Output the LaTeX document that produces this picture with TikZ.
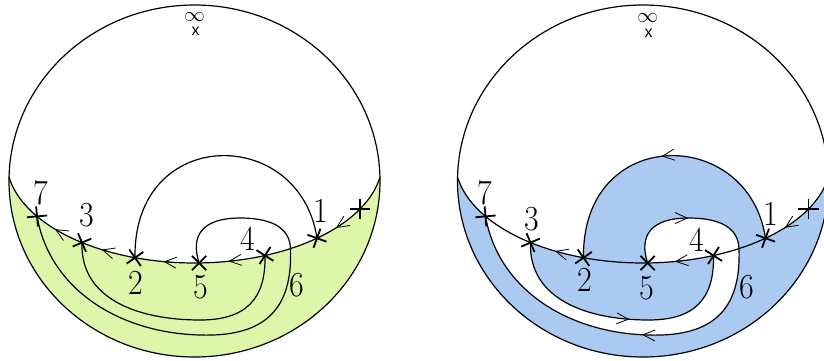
\documentclass[tikz,border=0pt]{standalone}
\usepackage{fontspec}
\newfontfamily\arialfam{Liberation Sans}
\usetikzlibrary{arrows.meta,decorations.markings,shapes.misc}
\definecolor{lgreen}{RGB}{221,247,170}
\definecolor{lblue}{RGB}{170,202,242}
\newcommand\eqx[1]{194.5+188*cos(#1)}
\newcommand\eqy[1]{160.3+102.7*sin(#1)}
\newcommand\setpts{%
  \coordinate (P7) at ({\eqx{146.9}},{\eqy{146.9}});
  \coordinate (P3) at ({\eqx{126.76}},{\eqy{126.76}});
  \coordinate (P2) at ({\eqx{108.45}},{\eqy{108.45}});
  \coordinate (P5) at ({\eqx{88.6}},{\eqy{88.6}});
  \coordinate (P4) at ({\eqx{67.98}},{\eqy{67.98}});
  \coordinate (P1) at ({\eqx{49.34}},{\eqy{49.34}});
  \coordinate (P0) at ({\eqx{28.33}},{\eqy{28.33}});
  \coordinate (X) at ({\eqx{59.3}},{\eqy{59.3}});
  \coordinate (Q) at (240,218);
  \coordinate (R) at (200,335);
  \coordinate (M) at (200,320);
}
\tikzset{
  ln/.style={line width=1.2pt},
  mk/.style={cross out, draw, line width=1.8pt, minimum size=12.5pt, inner sep=0pt},
  lab/.style={font=\fontsize{32}{32}\selectfont, inner sep=0pt, yscale=1.1},
  chev/.style={-{Straight Barb[length=12pt,width=11pt,line width=0.8pt]}, line width=0.8pt},
  tipmk/.style={decorate, decoration={markings, mark=at position #1 with {\arrow{Straight Barb[length=12pt,width=11pt,line width=0.8pt]}}}},
}
\begin{document}
\begin{tikzpicture}[x=1pt,y=-1pt]
\clip (0,0) rectangle (824,360);
% ===================== LEFT =====================
\begin{scope}[name prefix=L-]
\setpts
\begin{scope}
  \clip (194.5,181) ellipse [x radius=185.5pt, y radius=176pt];
  \fill[lgreen] plot[domain=0:180,samples=91,variable=\t] ({\eqx{\t}},{\eqy{\t}}) -- (6,370) -- (383,370) -- cycle;
\end{scope}
\draw[ln] (194.5,181) ellipse [x radius=185.5pt, y radius=176pt];
\draw[ln] plot[domain=9.4:170.6,samples=90,variable=\t] ({\eqx{\t}},{\eqy{\t}});
% equator arrows
\draw[chev] ({\eqx{135.9}},{\eqy{135.9}}) -- ({\eqx{137.9}},{\eqy{137.9}});
\draw[chev] ({\eqx{117.6}},{\eqy{117.6}}) -- ({\eqx{119.6}},{\eqy{119.6}});
\draw[chev] ({\eqx{97.5}},{\eqy{97.5}}) -- ({\eqx{99.5}},{\eqy{99.5}});
\draw[chev] ({\eqx{77.6}},{\eqy{77.6}}) -- ({\eqx{79.6}},{\eqy{79.6}});
\draw[chev] ({\eqx{39.2}},{\eqy{39.2}}) -- ({\eqx{41.2}},{\eqy{41.2}});
% curves
\draw[ln] (P2) .. controls (133,125) and (300,125) .. (P1);
\draw[ln] (P5) .. controls (190,235) and (203,218) .. (Q) .. controls (278,218) and (290,232) .. (X) .. controls (293,312) and (262,337) .. (R) .. controls (120,333) and (50,290) .. (P7);
\draw[ln] (P3) .. controls (80,300) and (140,320) .. (M) .. controls (245,320) and (266,300) .. (P4);
% markers
\node[mk, rotate=-40] (c7) at (P7) {};
\node[mk, rotate=-22] (c3) at (P3) {};
\node[mk, rotate=-10] (c2) at (P2) {};
\node[mk] (c5) at (P5) {};
\node[mk, rotate=12.5] (c4) at (P4) {};
\node[mk, rotate=25] (c1) at (P1) {};
\node[mk, rotate=45] (c0) at (P0) {};
% labels
\node[lab] (l7) at (40.7,193.3) {7};
\node[lab] (l3) at (87.3,215) {3};
\node[lab] (l2) at (135.7,282.7) {2};
\node[lab] (l5) at (201,286.7) {5};
\node[lab] (l4) at (248.3,238.3) {4};
\node[lab] (l1) at (320.7,210.7) {1};
\node[lab] (l6) at (296.7,285) {6};
\node[font=\fontsize{20}{20}\selectfont, inner sep=0pt] (inf) at (194.5,17.5) {$\infty$};
\node[font=\arialfam\fontsize{16}{16}\selectfont, inner sep=0pt] (ix) at (195.5,31) {x};
\end{scope}
% ===================== RIGHT =====================
\begin{scope}[shift={(448.5,0)}, name prefix=R-]
\setpts
\begin{scope}
  \clip (194.5,181) ellipse [x radius=185.5pt, y radius=176pt];
  \fill[lblue] plot[domain=0:180,samples=91,variable=\t] ({\eqx{\t}},{\eqy{\t}}) -- (6,370) -- (383,370) -- cycle;
\end{scope}
% white strip below the equator
\fill[white] (P7) -- plot[domain=146.9:126.76,samples=15,variable=\t] ({\eqx{\t}},{\eqy{\t}})
  .. controls (80,300) and (140,320) .. (M) .. controls (245,320) and (266,300) .. (P4)
  -- plot[domain=67.98:59.3,samples=8,variable=\t] ({\eqx{\t}},{\eqy{\t}})
  .. controls (293,312) and (262,337) .. (R) .. controls (120,333) and (50,290) .. (P7) -- cycle;
% blue region above the equator
\fill[lblue] (P2) .. controls (133,125) and (300,125) .. (P1)
  -- plot[domain=49.34:59.3,samples=8,variable=\t] ({\eqx{\t}},{\eqy{\t}})
  .. controls (290,232) and (278,218) .. (Q) .. controls (203,218) and (190,235) .. (P5)
  -- plot[domain=88.6:108.45,samples=12,variable=\t] ({\eqx{\t}},{\eqy{\t}}) -- cycle;
\draw[ln] (194.5,181) ellipse [x radius=185.5pt, y radius=176pt];
\draw[ln] plot[domain=9.4:170.6,samples=90,variable=\t] ({\eqx{\t}},{\eqy{\t}});
% equator arrows
\draw[chev] ({\eqx{115.9}},{\eqy{115.9}}) -- ({\eqx{117.9}},{\eqy{117.9}});
\draw[chev] ({\eqx{78.2}},{\eqy{78.2}}) -- ({\eqx{80.2}},{\eqy{80.2}});
\draw[chev] ({\eqx{39}},{\eqy{39}}) -- ({\eqx{41}},{\eqy{41}});
% curves
\draw[ln, postaction={tipmk=0.51}] (P1) .. controls (300,125) and (133,125) .. (P2);
\draw[ln, postaction={decorate, decoration={markings,
    mark=at position 75pt with {\arrow{Straight Barb[length=12pt,width=11pt,line width=0.8pt]}},
    mark=at position 295pt with {\arrow{Straight Barb[length=12pt,width=11pt,line width=0.8pt]}}}}]
  (P5) .. controls (190,235) and (203,218) .. (Q) .. controls (278,218) and (290,232) .. (X) .. controls (293,312) and (262,337) .. (R) .. controls (120,333) and (50,290) .. (P7);
\draw[ln, postaction={tipmk=140pt}] (P3) .. controls (80,300) and (140,320) .. (M) .. controls (245,320) and (266,300) .. (P4);
% markers
\node[mk, rotate=-40] (c7) at (P7) {};
\node[mk, rotate=-22] (c3) at (P3) {};
\node[mk, rotate=-10] (c2) at (P2) {};
\node[mk] (c5) at (P5) {};
\node[mk, rotate=12.5] (c4) at (P4) {};
\node[mk, rotate=25] (c1) at (P1) {};
\node[mk, rotate=45] (c0) at (P0) {};
% labels
\node[lab] (l7) at (36.5,193.3) {7};
\node[lab] (l3) at (83.2,219) {3};
\node[lab] (l2) at (136.5,280) {2};
\node[lab] (l5) at (198.5,288) {5};
\node[lab] (l4) at (248.8,240) {4};
\node[lab] (l1) at (322.2,214) {1};
\node[lab] (l6) at (298.2,287.3) {6};
\node[font=\fontsize{20}{20}\selectfont, inner sep=0pt] (inf) at (199.3,18.5) {$\infty$};
\node[font=\arialfam\fontsize{16}{16}\selectfont, inner sep=0pt] (ix) at (200.2,33) {x};
\end{scope}
\end{tikzpicture}
\end{document}
